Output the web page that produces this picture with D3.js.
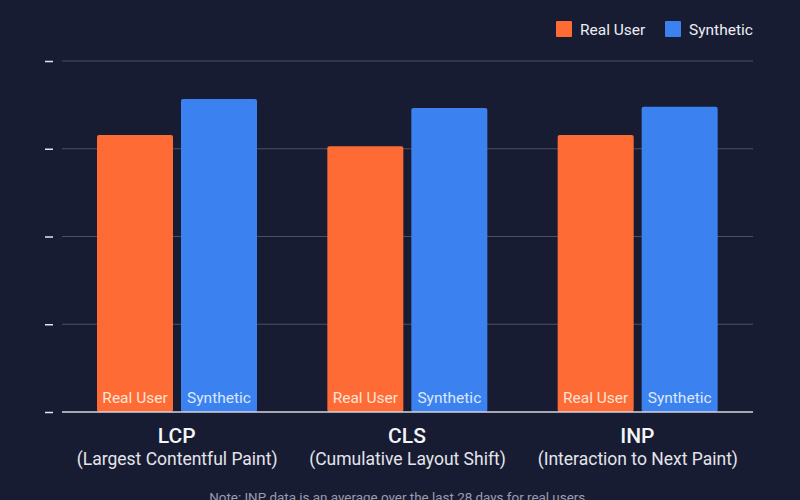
<!DOCTYPE html>
<html lang="en">
<head>
    <meta charset="UTF-8">
    <script src="https://d3js.org/d3.v7.min.js"></script>
    <title>Core Web Vitals</title>
    <style>
        html, body { margin: 0; padding: 0; background: #181c33; overflow: hidden; }
        text { font-family: Roboto, sans-serif; }
    </style>
</head>
<body>

<script>
    const metrics = ["LCP", "CLS", "INP"];
    const metricNames = ["(Largest Contentful Paint)", "(Cumulative Layout Shift)", "(Interaction to Next Paint)"];
    const seriesNames = ["Real User", "Synthetic"];
    const realUser = [78.9, 75.7, 78.9];
    const synthetic = [89.2, 86.6, 87];
    const yTicks = [0, 25, 50, 75, 100];
    const note = "Note: INP data is an average over the last 28 days for real users.";

    const seriesColors = ["#ff6b35", "#3b82f0"];
    const seriesValues = [realUser, synthetic];

    const svg = d3.select("body").append("svg")
        .attr("width", 800)
        .attr("height", 500);

    // x and y scales
    const x0 = d3.scaleBand().domain(metrics).range([62, 753]);
    const x1 = d3.scaleBand().domain(seriesNames)
        .range([35, 195])
        .paddingInner(0.095);
    const y = d3.scaleLinear().domain([0, 100]).range([412, 61]);

    // gridlines
    svg.selectAll("line.grid")
        .data(yTicks.slice(1))
        .enter().append("line")
        .attr("class", "grid")
        .attr("x1", 62)
        .attr("x2", 753)
        .attr("y1", d => y(d))
        .attr("y2", d => y(d))
        .attr("stroke", "#4b4f64")
        .attr("stroke-width", 1.2);

    // unlabelled tick dashes on the left
    const yAxis = d3.axisLeft(y).tickValues(yTicks).tickSize(8).tickFormat("");
    const yAxisG = svg.append("g")
        .attr("transform", "translate(53,0)")
        .call(yAxis);
    yAxisG.select(".domain").remove();
    yAxisG.selectAll(".tick line")
        .attr("stroke", "#e4e5ea")
        .attr("stroke-width", 1.5);

    // bars
    seriesNames.forEach(function(name, s) {
        const g = svg.append("g");
        g.selectAll("rect")
            .data(metrics)
            .enter().append("rect")
            .attr("x", d => x0(d) + x1(name))
            .attr("y", (d, i) => y(seriesValues[s][i]))
            .attr("width", x1.bandwidth())
            .attr("height", (d, i) => y(0) - y(seriesValues[s][i]))
            .attr("rx", 2)
            .attr("fill", seriesColors[s]);

        // label inside the foot of each bar
        g.selectAll("text")
            .data(metrics)
            .enter().append("text")
            .attr("x", d => x0(d) + x1(name) + x1.bandwidth() / 2)
            .attr("y", 403)
            .attr("text-anchor", "middle")
            .attr("font-size", 15.5)
            .attr("fill", s === 0 ? "#fde3d8" : "#dbe8fd")
            .text(name);
    });

    // baseline
    svg.append("line")
        .attr("x1", 62)
        .attr("x2", 753)
        .attr("y1", y(0))
        .attr("y2", y(0))
        .attr("stroke", "#d5d6de")
        .attr("stroke-width", 1.5);

    // category labels
    svg.selectAll("text.metric")
        .data(metrics)
        .enter().append("text")
        .attr("class", "metric")
        .attr("x", d => x0(d) + x0.bandwidth() / 2 - 0.5)
        .attr("y", 443)
        .attr("text-anchor", "middle")
        .attr("font-size", 21)
        .attr("font-weight", 500)
        .attr("fill", "#f4f5f8")
        .text(d => d);

    svg.selectAll("text.metric-name")
        .data(metrics)
        .enter().append("text")
        .attr("class", "metric-name")
        .attr("x", d => x0(d) + x0.bandwidth() / 2)
        .attr("y", 465)
        .attr("text-anchor", "middle")
        .attr("font-size", 17.5)
        .attr("fill", "#e4e5ea")
        .text((d, i) => metricNames[i]);

    // note, runs off the bottom edge as in the reference
    svg.append("text")
        .attr("x", 399)
        .attr("y", 502)
        .attr("text-anchor", "middle")
        .attr("font-size", 13.4)
        .attr("fill", "#9a9dad")
        .text(note);

    // legend
    const legendX = d3.scaleOrdinal().domain(seriesNames).range([556, 665]);
    const legend = svg.selectAll("g.legend")
        .data(seriesNames)
        .enter().append("g")
        .attr("class", "legend")
        .attr("transform", d => "translate(" + legendX(d) + ",21)");
    legend.append("rect")
        .attr("width", 16)
        .attr("height", 16)
        .attr("rx", 1)
        .attr("fill", (d, i) => seriesColors[i]);
    legend.append("text")
        .attr("x", 24)
        .attr("y", 13.5)
        .attr("font-size", 15.5)
        .attr("fill", "#eceef3")
        .text(d => d);
</script>

</body>
</html>
